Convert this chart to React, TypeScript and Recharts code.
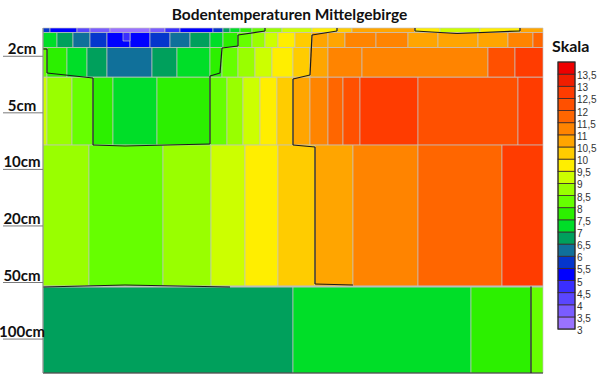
import React from 'react';
import { ComposedChart, XAxis, YAxis, ReferenceArea, ReferenceLine } from 'recharts';

// ---- colour scale (lower bound of each 0.5 °C band) ----
const levelBounds = [3, 3.5, 4, 4.5, 5, 5.5, 6, 6.5, 7, 7.5, 8, 8.5, 9, 9.5, 10, 10.5, 11, 11.5, 12, 12.5, 13, 13.5];
const levelLabels = ['3', '3,5', '4', '4,5', '5', '5,5', '6', '6,5', '7', '7,5', '8', '8,5', '9', '9,5', '10', '10,5', '11', '11,5', '12', '12,5', '13', '13,5'];
const levelColors = [
  '#9a72ff', '#7a5cff', '#5a46ff', '#3a2eff', '#0000ff', '#0536cc', '#10709a', '#00a05c',
  '#00de28', '#2cf000', '#66ff00', '#99ff00', '#ccff00', '#ffee00', '#ffcc00', '#ffa500',
  '#ff8400', '#ff6600', '#ff5000', '#ff3c00', '#f01e00', '#ee0000',
];

// ---- depth axis ----
const depthTicks = [1, 2, 3, 4, 5, 6];
const depthLabels = ['2cm', '5cm', '10cm', '20cm', '50cm', '100cm'];

// ---- layer edges (depth-axis units) ----
const layerEdges = [0.5, 0.58, 0.845, 1.37, 2.57, 5.07, 6.6];

// ---- temperatures per layer: start of each band along the day (0-100) and value ----
const surfaceStarts = [0, 1.4, 6.8, 9.4, 13.4, 21.4, 24.4, 27.4, 34, 36, 37.4, 39.4, 41.8, 44.4, 47.8, 53.8, 58.8, 61.8, 74.4, 79.4, 87.4, 95.4];
const surfaceTemps = [5.7, 5.2, 4.2, 3.7, 3.2, 3.7, 4.7, 5.2, 5.7, 6.7, 7.2, 7.7, 8.2, 8.7, 9.2, 9.7, 10.2, 10.7, 9.7, 9.2, 9.7, 10.7];

const layer1Starts = [0, 2.8, 6, 9.4, 12.8, 17.4, 21.4, 25.4, 29.4, 33.4, 36, 39, 41.8, 44.4, 47, 50.4, 53.8, 57, 60.4, 66.6, 73, 79, 87, 93, 98];
const layer1Temps = [7.2, 6.7, 6.2, 5.7, 5.2, 5.2, 5.7, 6.2, 6.7, 7.2, 7.7, 8.2, 8.7, 9.2, 9.7, 10.2, 10.7, 10.8, 11.2, 11.2, 10.7, 10.6, 10.7, 11.2, 11.7];

const cm2Starts = [0, 0.8, 4.8, 8.8, 12.8, 21.8, 26.8, 33.4, 35.8, 39, 42.4, 45.8, 50, 53.4, 57, 63.8, 89, 94.4];
const cm2Temps = [8.2, 7.7, 7.2, 6.7, 6.2, 6.7, 7.2, 7.7, 8.2, 8.7, 9.2, 9.7, 10.2, 10.7, 11.1, 11.3, 12.1, 12.7];

const cm5Starts = [0, 0.8, 5.8, 10, 14, 22.8, 33.4, 36.8, 40, 43.4, 46.8, 50, 53.4, 57, 60, 63.4, 75, 95];
const cm5Temps = [9.2, 8.7, 8.2, 7.7, 7.2, 7.7, 8.2, 8.7, 9.2, 9.7, 10.2, 10.7, 11.2, 11.7, 12.2, 12.7, 12.2, 12.7];

const cm50Starts = [0, 9.2, 24, 33.6, 40.4, 47, 54.4, 62, 75, 91.8];
const cm50Temps = [8.7, 8.2, 8.7, 9.2, 9.7, 10.2, 10.7, 11.2, 11.7, 12.7];

const cm100Starts = [0, 50, 85.6, 97.6];
const cm100Temps = [6.7, 7.2, 7.7, 8.2];

// small cold pocket at the surface
const pocketX = [16, 17.4];
const pocketY = [0.58, 0.73];
const pocketTemp = 4.7;

// ---- contour lines (x, depth) ----
const contourLeftX = [0, 0.8, 0.8, 10, 10, 16.4, 33.4, 33.4, 35.4, 35.8, 39, 39, 44.4, 44.4];
const contourLeftY = [0.871, 0.871, 1.296, 1.384, 2.569, 2.586, 2.551, 1.349, 1.296, 0.854, 0.818, 0.624, 0.553, 0.5];
const contourRightX = [58.8, 58.8, 53.8, 53.4, 50, 50, 54.4, 54.4, 62];
const contourRightY = [0.5, 0.553, 0.624, 1.331, 1.402, 2.569, 2.604, 5.026, 5.044];
const contourTopX = [74.4, 74.4, 82.8, 95.4, 95.4];
const contourTopY = [0.5, 0.553, 0.597, 0.553, 0.5];
const contourDeepX = [0, 16.4, 37.4];
const contourDeepY = [5.079, 5.044, 5.079];
const contourBottomX = [97.6, 97.6];
const contourBottomY = [5.07, 6.6];

const colorFor = (t: number) => {
  const idx = Math.min(levelColors.length - 1, Math.max(0, Math.floor((t - 3) * 2)));
  return levelColors[idx];
};

const layers = [
  { starts: surfaceStarts, temps: surfaceTemps },
  { starts: layer1Starts, temps: layer1Temps },
  { starts: cm2Starts, temps: cm2Temps },
  { starts: cm5Starts, temps: cm5Temps },
  { starts: cm50Starts, temps: cm50Temps },
  { starts: cm100Starts, temps: cm100Temps },
];

const cells = layers.flatMap((layer, i) =>
  layer.starts.map((s, j) => ({
    x1: s,
    x2: j + 1 < layer.starts.length ? layer.starts[j + 1] : 100,
    y1: layerEdges[i],
    y2: layerEdges[i + 1],
    t: layer.temps[j],
  }))
);
cells.push({ x1: pocketX[0], x2: pocketX[1], y1: pocketY[0], y2: pocketY[1], t: pocketTemp });

const toSegments = (xs: number[], ys: number[]) =>
  xs.slice(0, -1).map((x, i) => [
    { x, y: ys[i] },
    { x: xs[i + 1], y: ys[i + 1] },
  ]);

const contours = [
  ...toSegments(contourLeftX, contourLeftY),
  ...toSegments(contourRightX, contourRightY),
  ...toSegments(contourTopX, contourTopY),
  ...toSegments(contourDeepX, contourDeepY),
  ...toSegments(contourBottomX, contourBottomY),
];

const DepthTick = (props: any) => {
  const { y, payload } = props;
  const label = depthLabels[depthTicks.indexOf(payload.value)];
  return (
    <g>
      <line x1={3} x2={43} y1={y} y2={y} stroke="#7a7a7a" strokeWidth={1} />
      <text x={22} y={y - 2} textAnchor="middle" fontFamily="Lato, 'Open Sans', sans-serif" fontWeight={700} fontSize={15} fill="#111">
        {label}
      </text>
    </g>
  );
};

const ColorScale = () => {
  const top = 62;
  const h = 12.14;
  const x = 558;
  const w = 17;
  const n = levelBounds.length;
  return (
    <svg width={600} height={376} style={{ position: 'absolute', left: 0, top: 0, pointerEvents: 'none' }}>
      <text x={552} y={52} fontFamily="Lato, 'Open Sans', sans-serif" fontWeight={700} fontSize={16} fill="#111">Skala</text>
      {levelBounds.map((v, i) => {
        const yTop = top + (n - 1 - i) * h;
        return <rect key={'b' + v} x={x} y={yTop} width={w} height={h} fill={levelColors[i]} stroke="#3a2a2a" strokeWidth={0.8} />;
      })}
      <rect x={x} y={top} width={w} height={n * h} fill="none" stroke="#2a2a2a" strokeWidth={1} />
      {levelBounds.map((v, i) => {
        const yb = top + (n - i) * h;
        return (
          <text key={'l' + v} x={577} y={yb + 5} fontFamily="'Liberation Sans', Arial, sans-serif" fontSize={10} fill="#333">
            {levelLabels[i]}
          </text>
        );
      })}
    </svg>
  );
};

export default function App() {
  return (
    <div style={{ position: 'absolute', left: 0, top: 0, width: 600, height: 376, background: '#fff' }}>
      <div
        style={{
          position: 'absolute', left: 0, top: 4, width: 579, textAlign: 'center',
          fontFamily: "Lato, 'Open Sans', sans-serif", fontWeight: 700, fontSize: 15.5, lineHeight: '20px', color: '#111',
        }}
      >
        Bodentemperaturen Mittelgebirge
      </div>
      <div style={{ position: 'absolute', left: 0, top: 0 }}>
        <ComposedChart width={600} height={376} margin={{ top: 28, right: 57, left: 0, bottom: 0 }} data={[]}>
          <XAxis type="number" dataKey="x" domain={[0, 100]} allowDataOverflow tick={false} tickLine={false} height={3} axisLine={{ stroke: '#2a2a2a' }} />
          <YAxis
            type="number"
            domain={[0.5, 6.6]}
            reversed
            allowDataOverflow
            ticks={depthTicks}
            interval={0}
            width={43}
            tickLine={false}
            axisLine={{ stroke: '#8a8a8a' }}
            tick={<DepthTick />}
          />
          {cells.map((c, i) => (
            <ReferenceArea
              key={'c' + i}
              x1={c.x1}
              x2={c.x2}
              y1={c.y1}
              y2={c.y2}
              fill={colorFor(c.t)}
              fillOpacity={1}
              stroke="#c4c4c4"
              strokeOpacity={0.85}
              strokeWidth={0.8}
              ifOverflow="visible"
            />
          ))}
          <ReferenceLine y={5.07} stroke="#bdbdbd" strokeWidth={2} ifOverflow="visible" />
          {contours.map((seg, i) => (
            <ReferenceLine key={'k' + i} segment={seg} stroke="#1a1a1a" strokeWidth={1.2} ifOverflow="visible" />
          ))}
        </ComposedChart>
      </div>
      <ColorScale />
    </div>
  );
}
